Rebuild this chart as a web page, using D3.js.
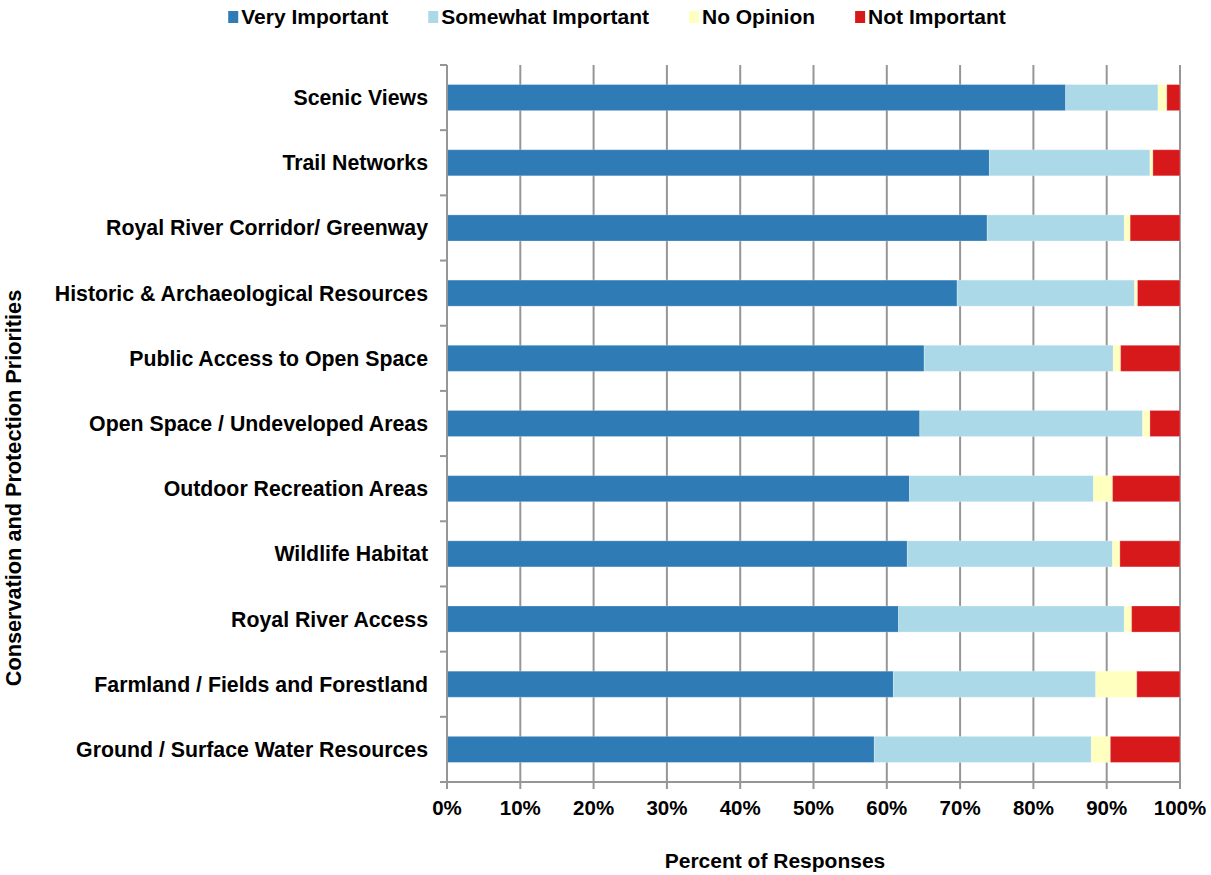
<!DOCTYPE html>
<html>
<head>
<meta charset="utf-8">
<script src="https://cdn.jsdelivr.net/npm/d3@7"></script>
<style>
  body { margin: 0; background: #fff; }
  text { font-family: "Liberation Sans", Arial, sans-serif; font-weight: bold; fill: #000; }
</style>
</head>
<body>
<svg id="chart" width="1211" height="875"></svg>
<script>
// categories, top to bottom
let categories = [
    "Scenic Views",
    "Trail Networks",
    "Royal River Corridor/ Greenway",
    "Historic & Archaeological Resources",
    "Public Access to Open Space",
    "Open Space / Undeveloped Areas",
    "Outdoor Recreation Areas",
    "Wildlife Habitat",
    "Royal River Access",
    "Farmland / Fields and Forestland",
    "Ground / Surface Water Resources"
];

// percent of responses per series
let veryImportant     = [84.4, 74.0, 73.7, 69.6, 65.1, 64.5, 63.1, 62.8, 61.6, 60.9, 58.3];
let somewhatImportant = [12.6, 21.9, 18.7, 24.2, 25.8, 30.4, 25.1, 28.0, 30.8, 27.6, 29.6];
let noOpinion         = [1.2, 0.4, 0.8, 0.4, 1.0, 1.0, 2.6, 1.0, 1.0, 5.6, 2.6];
let notImportant      = [1.8, 3.7, 6.8, 5.8, 8.1, 4.1, 9.2, 8.2, 6.6, 5.9, 9.5];

let seriesNames = ["Very Important", "Somewhat Important", "No Opinion", "Not Important"];
let seriesColors = ["#2e7bb6", "#acd9e8", "#ffffc0", "#d7191c"];

let xTicks = [0, 10, 20, 30, 40, 50, 60, 70, 80, 90, 100];

let svg = d3.select("#chart");

let margin = {top: 65, left: 447, right: 31, bottom: 93};
let width = 1211 - margin.left - margin.right,
    height = 875 - margin.top - margin.bottom;

// table for the stack
let rows = categories.map(function (c, i) {
    return {
        cat: c,
        "Very Important": veryImportant[i],
        "Somewhat Important": somewhatImportant[i],
        "No Opinion": noOpinion[i],
        "Not Important": notImportant[i]
    };
});

let stack = d3.stack().keys(seriesNames);
let layers = stack(rows);

let x = d3.scaleLinear().domain([0, 100]).range([0, width]);
let y = d3.scaleBand().domain(categories).range([0, height]).paddingInner(0.6).paddingOuter(0.3);
let yb = d3.scaleBand().domain(categories).range([0, height]); // for tick marks at band edges
let color = d3.scaleOrdinal().domain(seriesNames).range(seriesColors);

let g = svg.append("g").attr("transform", "translate(" + margin.left + "," + margin.top + ")");

// vertical gridlines (extend below as ticks)
g.append("g")
    .selectAll("line")
    .data(xTicks)
    .enter().append("line")
    .attr("x1", function (d) { return x(d); })
    .attr("x2", function (d) { return x(d); })
    .attr("y1", 0)
    .attr("y2", height + 7)
    .attr("stroke", "#969696")
    .attr("stroke-width", 2);

// bars
g.append("g")
    .selectAll("g")
    .data(layers)
    .enter().append("g")
    .attr("fill", function (d) { return color(d.key); })
    .selectAll("rect")
    .data(function (d) { return d; })
    .enter().append("rect")
    .attr("x", function (d) { return x(d[0]); })
    .attr("width", function (d) { return x(d[1]) - x(d[0]); })
    .attr("y", function (d) { return y(d.data.cat); })
    .attr("height", y.bandwidth())
    .attr("stroke", "#fff")
    .attr("stroke-opacity", 0.25)
    .attr("stroke-width", 1);

// y axis line and band edge ticks
g.append("line")
    .attr("x1", 0).attr("x2", 0)
    .attr("y1", 0).attr("y2", height)
    .attr("stroke", "#969696").attr("stroke-width", 2);

let edges = categories.map(function (c) { return yb(c); }).concat([height]);
g.append("g")
    .selectAll("line")
    .data(edges)
    .enter().append("line")
    .attr("x1", -7).attr("x2", 0)
    .attr("y1", function (d) { return d; })
    .attr("y2", function (d) { return d; })
    .attr("stroke", "#969696").attr("stroke-width", 2);

// x axis line
g.append("line")
    .attr("x1", -7).attr("x2", width)
    .attr("y1", height).attr("y2", height)
    .attr("stroke", "#969696").attr("stroke-width", 2);

// category labels
g.append("g")
    .selectAll("text")
    .data(categories)
    .enter().append("text")
    .attr("x", -19)
    .attr("y", function (d) { return y(d) + y.bandwidth() / 2; })
    .attr("dy", "0.35em")
    .attr("text-anchor", "end")
    .style("font-size", "21.3px")
    .text(function (d) { return d; });

// x tick labels
g.append("g")
    .selectAll("text")
    .data(xTicks)
    .enter().append("text")
    .attr("x", function (d) { return x(d); })
    .attr("y", height + 33)
    .attr("text-anchor", "middle")
    .style("font-size", "20.5px")
    .text(function (d) { return d + "%"; });

// axis titles
svg.append("text")
    .attr("x", 775)
    .attr("y", 868)
    .attr("text-anchor", "middle")
    .style("font-size", "21px")
    .text("Percent of Responses");

svg.append("text")
    .attr("transform", "translate(21,488) rotate(-90)")
    .attr("text-anchor", "middle")
    .style("font-size", "21.7px")
    .text("Conservation and Protection Priorities");

// legend
let legend = svg.append("g").attr("class", "legend");
let lx = 0;
seriesNames.forEach(function (name) {
    let item = legend.append("g").attr("transform", "translate(" + lx + ",0)");
    item.append("rect")
        .attr("x", 0).attr("y", 11)
        .attr("width", 10).attr("height", 12)
        .attr("fill", color(name));
    let t = item.append("text")
        .attr("x", 13).attr("y", 24)
        .style("font-size", "21px")
        .text(name);
    lx += 13 + t.node().getComputedTextLength() + 40;
});
let legendWidth = lx - 40;
legend.attr("transform", "translate(" + (617 - legendWidth / 2) + ",0)");
</script>
</body>
</html>
